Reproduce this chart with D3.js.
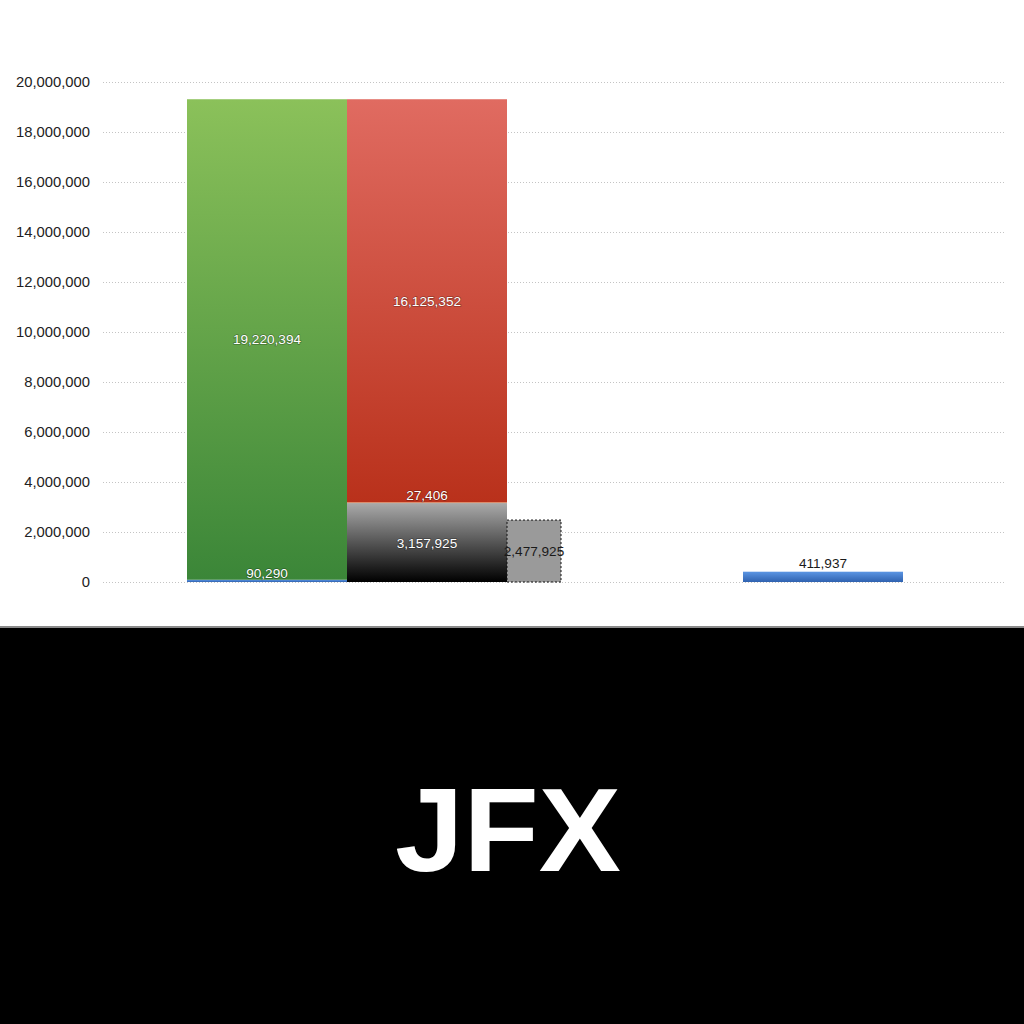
<!DOCTYPE html>
<html>
<head>
<meta charset="utf-8">
<script src="https://cdn.jsdelivr.net/npm/d3@7"></script>
<style>
  html, body { margin: 0; padding: 0; background: #fff; }
  svg { display: block; }
</style>
</head>
<body>
<div id="chart"></div>
<script>
/* groups along the x axis and the stacks inside each group */
var groups = ["g1", "g2"];
var slots = ["a", "b", "c"];

/* series: which stack they sit in, and their value per group */
var seriesNames = ["blue", "green", "black", "orange", "red", "target"];
var seriesSlot  = ["a", "a", "b", "b", "b", "c"];
var blueVals   = [90290, 411937];
var greenVals  = [19220394, 0];
var blackVals  = [3157925, 0];
var orangeVals = [27406, 0];
var redVals    = [16125352, 0];
var targetVals = [2477925, 0];

var yTicks = [0, 2000000, 4000000, 6000000, 8000000, 10000000,
              12000000, 14000000, 16000000, 18000000, 20000000];

var W = 1024, H = 1024;
var svg = d3.select("#chart").append("svg")
    .attr("width", W).attr("height", H);

var defs = svg.append("defs");
function grad(id, top, bottom) {
  var g = defs.append("linearGradient").attr("id", id)
      .attr("x1", 0).attr("y1", 0).attr("x2", 0).attr("y2", 1);
  g.append("stop").attr("offset", "0%").attr("stop-color", top);
  g.append("stop").attr("offset", "100%").attr("stop-color", bottom);
}
grad("gBlue", "#5b95e3", "#2f62b0");
grad("gGreen", "#8bc15a", "#3b8638");
grad("gBlack", "#aaaaaa", "#000000");
grad("gOrange", "#eaa26a", "#d98a50");
grad("gRed", "#e06b61", "#b9311b");

var fills = {
  blue: "url(#gBlue)", green: "url(#gGreen)", black: "url(#gBlack)",
  orange: "url(#gOrange)", red: "url(#gRed)", target: "#9a9a9a"
};

/* scales */
var y = d3.scaleLinear().domain([0, 20000000]).range([582, 82]);
var x0 = d3.scaleBand().domain(groups).range([187, 1299]);
var x1 = d3.scaleBand().domain(slots).range([0, 480]);
var narrow = 54;

/* grid */
var grid = svg.append("g");
grid.selectAll("line").data(yTicks).enter().append("line")
    .attr("x1", 103).attr("x2", 1005)
    .attr("y1", function(d) { return y(d) + 0.5; })
    .attr("y2", function(d) { return y(d) + 0.5; })
    .attr("stroke", "#c4c4c4").attr("stroke-width", 1)
    .attr("stroke-dasharray", "1,2");

/* y axis */
var yAxis = d3.axisLeft(y).tickValues(yTicks).tickSize(0).tickPadding(0)
    .tickFormat(d3.format(","));
var ya = svg.append("g").attr("transform", "translate(90,0)").call(yAxis);
ya.select(".domain").remove();
ya.selectAll("text")
    .style("font-family", "'Liberation Sans', Arial, sans-serif")
    .style("font-size", "14.8px").attr("fill", "#222");

/* build rectangles with stacking per slot */
var allVals = [blueVals, greenVals, blackVals, orangeVals, redVals, targetVals];
var rects = [];
groups.forEach(function(g, gi) {
  var base = {};
  seriesNames.forEach(function(s, si) {
    var v = allVals[si][gi];
    var slot = seriesSlot[si];
    var b = base[slot] || 0;
    base[slot] = b + v;
    if (v > 0) rects.push({group: g, series: s, slot: slot, y0: b, y1: b + v, v: v});
  });
});

var bars = svg.append("g");
bars.selectAll("rect").data(rects).enter().append("rect")
    .attr("x", function(d) { return x0(d.group) + x1(d.slot); })
    .attr("width", function(d) { return d.series === "target" ? narrow : x1.bandwidth(); })
    .attr("y", function(d) { return y(d.y1); })
    .attr("height", function(d) { return y(d.y0) - y(d.y1); })
    .attr("fill", function(d) { return fills[d.series]; })
    .attr("stroke", function(d) { return d.series === "target" ? "#111" : "none"; })
    .attr("stroke-dasharray", function(d) { return d.series === "target" ? "2,2" : null; })
    .attr("stroke-width", 1);

/* value labels */
var fmt = d3.format(",");
var labels = svg.append("g")
    .style("font-family", "'Liberation Sans', Arial, sans-serif")
    .style("font-size", "13.6px");
labels.selectAll("text").data(rects).enter().append("text")
    .attr("x", function(d) {
      var w = d.series === "target" ? narrow : x1.bandwidth();
      return x0(d.group) + x1(d.slot) + w / 2;
    })
    .attr("y", function(d) {
      var h = y(d.y0) - y(d.y1);
      if (h < 20) return y(d.y1) - (d.group === "g2" ? 4 : 2);
      return (y(d.y0) + y(d.y1)) / 2 + 5;
    })
    .attr("text-anchor", "middle")
    .attr("fill", function(d) {
      if (d.series === "target" || d.group === "g2") return "#1a1a1a";
      return "#fff";
    })
    .style("paint-order", "stroke")
    .attr("stroke", function(d) {
      return (d.series === "target" || (d.group === "g2")) ? "none" : "rgba(0,0,0,0.3)";
    })
    .attr("stroke-width", 1.4)
    .text(function(d) { return fmt(d.v); });

/* bottom black band with title */
svg.append("rect").attr("x", 0).attr("y", 626).attr("width", W).attr("height", 2)
    .attr("fill", "#8a8a8a");
svg.append("rect").attr("x", 0).attr("y", 628).attr("width", W).attr("height", H - 628)
    .attr("fill", "#000");
svg.append("text").attr("x", 508).attr("y", 871)
    .attr("text-anchor", "middle")
    .attr("textLength", 226).attr("lengthAdjust", "spacingAndGlyphs")
    .style("font-family", "'Liberation Sans', Arial, sans-serif")
    .style("font-weight", "bold").style("font-size", "118px")
    .attr("fill", "#fff").text("JFX");
</script>
</body>
</html>
